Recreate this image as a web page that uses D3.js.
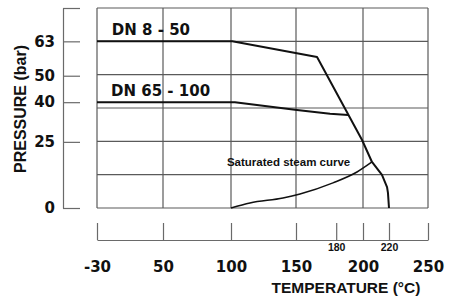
<!DOCTYPE html>
<html>
<head>
<meta charset="utf-8">
<script src="https://cdn.jsdelivr.net/npm/d3@7"></script>
<style>
  body { margin: 0; background: #fff; }
  svg { display: block; }
  .tick text { font-family: "DejaVu Sans", sans-serif; font-weight: bold; fill: #111; }
</style>
</head>
<body>
<div id="chart"></div>
<script>
var width = 449;
var height = 299;

// axis ticks
var tempTicks = [-30, 50, 100, 150, 200, 250];
var tempMinor = [180, 220];
var pressTicks = [0, 25, 40, 50, 63];
var pressTop = 75.6;
var pressGrid = [0, 12.6, 25.2, 37.8, 50.4, 63, 75.6];

// curves (temperature °C, pressure bar)
var dn850T = [-30, 101, 165.7, 199.3, 206.9, 214.6, 218.5, 219.2, 220];
var dn850P = [63, 63, 57.1, 25.7, 17.4, 12.5, 7.9, 5.7, 0];
var dn65T = [-30, 103, 150.7, 175.4, 189];
var dn65P = [40, 40, 37, 35.6, 35.2];
var steamT = [100, 114.6, 140, 153, 177.6, 195.5, 206.9];
var steamP = [0, 1.9, 3.8, 5.3, 9.5, 13.6, 17.4];

var svg = d3.select("#chart")
  .append("svg")
  .attr("width", width)
  .attr("height", height);

// the -30..50 band is squeezed, like on the original sheet
var x = d3.scaleLinear()
  .domain(tempTicks)
  .range([97, 163, 231, 296, 363, 428]);
var y = d3.scaleLinear()
  .domain([0, pressTop])
  .range([208, 8]);

// grid
svg.append("g").selectAll("line")
  .data(pressGrid)
  .enter().append("line")
    .attr("x1", x(-30)).attr("x2", x(250))
    .attr("y1", function(d){ return y(d); })
    .attr("y2", function(d){ return y(d); })
    .attr("stroke", "#5a5a5a").attr("stroke-width", 1.2);
svg.append("g").selectAll("line")
  .data(tempTicks)
  .enter().append("line")
    .attr("x1", function(d){ return x(d); })
    .attr("x2", function(d){ return x(d); })
    .attr("y1", y(0)).attr("y2", y(pressTop))
    .attr("stroke", "#5a5a5a").attr("stroke-width", 1.2);

// y axis, detached on the left, ticks pointing inward
var yAxis = svg.append("g")
  .attr("transform", "translate(63,0)")
  .call(d3.axisLeft(y)
    .tickValues(pressTicks.concat([pressTop]))
    .tickFormat(function(d){ return d === pressTop ? "" : d; })
    .tickSizeInner(-17).tickSizeOuter(0).tickPadding(8));
yAxis.selectAll("text").style("font-size", "15px");

// x axis strip under the plot
var xAxis = svg.append("g")
  .attr("transform", "translate(0,240)")
  .call(d3.axisBottom(x)
    .tickValues(tempTicks)
    .tickFormat(function(d){ return String(d); })
    .tickSizeInner(-17).tickSizeOuter(0).tickPadding(21));
xAxis.selectAll("text").style("font-size", "15px");
var xMinor = svg.append("g")
  .attr("transform", "translate(0,240)")
  .call(d3.axisBottom(x)
    .tickValues(tempMinor)
    .tickSizeInner(-17).tickSizeOuter(0).tickPadding(4));
xMinor.select(".domain").remove();
xMinor.selectAll("text").style("font-size", "10.5px")
  .style("font-family", "'Liberation Sans', Arial, sans-serif");

svg.selectAll(".domain, .tick line").attr("stroke", "#6a6a6a").attr("stroke-width", 1.2);

// curves
var line = d3.line()
  .x(function(d){ return x(d[0]); })
  .y(function(d){ return y(d[1]); });

svg.append("path")
  .attr("d", line(d3.zip(dn850T, dn850P)))
  .attr("fill", "none").attr("stroke", "#111").attr("stroke-width", 2)
  .attr("stroke-linejoin", "round");
svg.append("path")
  .attr("d", line(d3.zip(dn65T, dn65P)))
  .attr("fill", "none").attr("stroke", "#111").attr("stroke-width", 2)
  .attr("stroke-linejoin", "round");
svg.append("path")
  .attr("d", line.curve(d3.curveMonotoneX)(d3.zip(steamT, steamP)))
  .attr("fill", "none").attr("stroke", "#111").attr("stroke-width", 1.5);

// labels
var bold = "'Liberation Sans', Arial, sans-serif";
svg.append("text")
  .attr("x", x(-12)).attr("y", y(65.4))
  .attr("font-family", "'DejaVu Sans', sans-serif").attr("font-weight", "bold")
  .attr("font-size", 15).attr("fill", "#111")
  .text("DN 8 - 50");
svg.append("text")
  .attr("x", x(-13)).attr("y", y(42.3))
  .attr("font-family", "'DejaVu Sans', sans-serif").attr("font-weight", "bold")
  .attr("font-size", 15).attr("fill", "#111")
  .text("DN 65 - 100");
svg.append("text")
  .attr("x", x(97)).attr("y", y(15.9))
  .attr("font-family", bold).attr("font-weight", "bold")
  .attr("font-size", 11.5).attr("fill", "#111")
  .text("Saturated steam curve");

svg.append("text")
  .attr("x", 346).attr("y", 293)
  .attr("text-anchor", "middle")
  .attr("font-family", bold).attr("font-weight", "bold")
  .attr("font-size", 15.5).attr("fill", "#111")
  .text("TEMPERATURE (°C)");
svg.append("text")
  .attr("transform", "rotate(-90)")
  .attr("x", -109).attr("y", 26)
  .attr("text-anchor", "middle")
  .attr("font-family", bold).attr("font-weight", "bold")
  .attr("font-size", 16).attr("fill", "#111")
  .text("PRESSURE (bar)");
</script>
</body>
</html>
